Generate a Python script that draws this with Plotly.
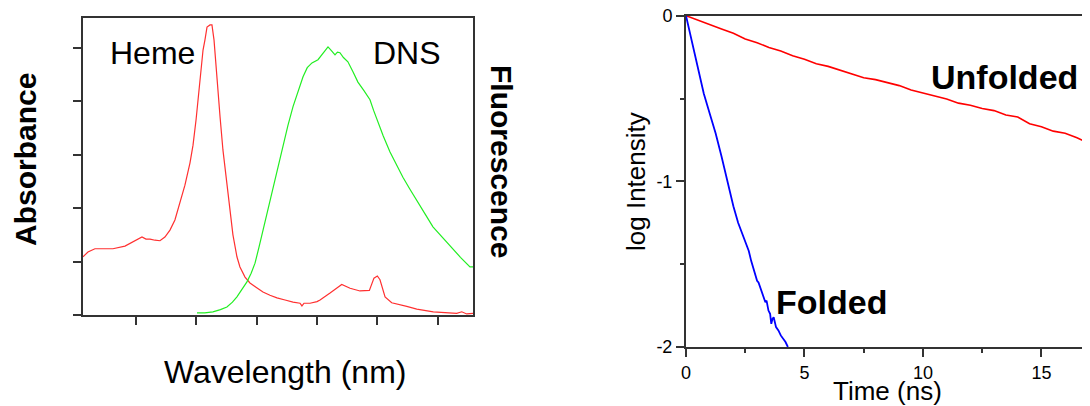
import plotly.graph_objects as go

# ---- Left panel: absorbance (Heme) and fluorescence (DNS) spectra ----
heme_nm = [306.1, 310.2, 316.0, 330.9, 340.9, 347.5, 351.7, 355.0, 358.3, 361.6, 365.8, 369.9,
           374.0, 378.2, 382.3, 386.5, 390.6, 394.8, 397.3, 399.8, 402.2, 403.9, 405.6, 407.2,
           408.9, 411.4, 413.0, 414.7, 416.3, 418.0, 419.7, 422.1, 425.5, 427.9, 430.4, 433.7,
           436.2, 440.4, 444.5, 449.5, 455.3, 461.1, 466.9, 473.6, 480.2, 486.0, 487.6, 489.3,
           494.3, 500.1, 502.6, 510.9, 520.6, 527.5, 535.7, 543.5, 547.3, 550.1, 552.3, 556.5,
           562.0, 574.5, 582.8, 596.5, 615.9, 620.1, 624.2, 629.4]
heme_abs = [1.09, 1.18, 1.24, 1.24, 1.29, 1.37, 1.42, 1.46, 1.42, 1.42, 1.40, 1.39,
            1.46, 1.59, 1.78, 2.10, 2.43, 2.85, 3.18, 3.65, 4.21, 4.63, 4.96, 5.15,
            5.39, 5.43, 5.43, 5.15, 4.74, 4.21, 3.71, 3.09, 2.47, 1.97, 1.50, 1.09,
            0.90, 0.71, 0.60, 0.52, 0.43, 0.37, 0.32, 0.28, 0.24, 0.22, 0.17, 0.22,
            0.22, 0.25, 0.28, 0.41, 0.57, 0.50, 0.45, 0.46, 0.69, 0.73, 0.66, 0.34,
            0.23, 0.16, 0.11, 0.06, 0.03, 0.06, 0.02, 0.03]

dns_nm = [400.6, 407.0, 413.8, 420.0, 425.4, 430.0, 433.7, 438.0, 442.0, 445.5, 448.7, 452.0,
          455.3, 459.5, 463.6, 468.0, 471.9, 476.0, 480.2, 484.5, 488.5, 492.0, 495.9, 500.9,
          505.0, 509.2, 512.0, 515.0, 517.0, 519.1, 522.0, 525.7, 530.0, 534.0, 539.0, 544.0,
          547.0, 550.6, 555.0, 560.6, 566.0, 571.3, 577.0, 583.0, 590.0, 596.2, 604.0, 611.9,
          619.0, 626.9, 629.4]
dns_fl = [0.04, 0.04, 0.06, 0.10, 0.15, 0.24, 0.34, 0.48, 0.62, 0.78, 0.97, 1.27,
          1.59, 2.00, 2.40, 2.80, 3.15, 3.55, 3.90, 4.20, 4.46, 4.63, 4.72, 4.78,
          4.90, 5.02, 4.95, 4.87, 4.92, 4.91, 4.82, 4.74, 4.55, 4.36, 4.20, 4.03,
          3.83, 3.60, 3.35, 3.05, 2.80, 2.58, 2.36, 2.15, 1.88, 1.65, 1.45, 1.25,
          1.08, 0.90, 0.90]

wl_ticks = [350, 400, 450, 500, 550, 600]
abs_ticks = [0, 1, 2, 3, 4, 5]

# ---- Right panel: fluorescence decays ----
unf_t = [0, 0.5, 1.0, 1.5, 2.0, 2.5, 3.0, 3.5, 4.0, 4.5, 5.0, 5.5, 6.0, 6.5, 7.0, 7.5, 8.0,
         8.5, 9.0, 9.5, 10.0, 10.5, 11.0, 11.5, 12.0, 12.5, 13.0, 13.5, 14.0, 14.5, 15.0,
         15.5, 16.0, 16.5, 17.0, 17.05]
unf_logI = [0, -0.028, -0.055, -0.080, -0.106, -0.140, -0.163, -0.192, -0.213, -0.242, -0.263,
            -0.290, -0.306, -0.328, -0.350, -0.375, -0.386, -0.405, -0.422, -0.448, -0.466,
            -0.488, -0.503, -0.528, -0.541, -0.560, -0.573, -0.599, -0.612, -0.652, -0.670,
            -0.697, -0.710, -0.737, -0.770, -0.775]

fold_t = [0, 0.25, 0.5, 0.75, 1.0, 1.25, 1.5, 1.75, 2.0, 2.2, 2.35, 2.5, 2.65, 2.75, 2.85,
          2.95, 3.0, 3.06, 3.15, 3.2, 3.27, 3.35, 3.4, 3.48, 3.55, 3.6, 3.65, 3.7, 3.8, 3.9,
          4.0, 4.1, 4.2, 4.3]
fold_logI = [0, -0.16, -0.32, -0.47, -0.59, -0.71, -0.85, -1.00, -1.15, -1.25, -1.31, -1.37,
             -1.42, -1.48, -1.53, -1.57, -1.60, -1.61, -1.65, -1.66, -1.69, -1.73, -1.72,
             -1.78, -1.80, -1.86, -1.83, -1.82, -1.88, -1.90, -1.93, -1.95, -1.97, -2.0]

time_ticks = [0, 5, 10, 15]
log_ticks = [0, -1, -2]
log_ticktext = ["0", "-1", "-2"]

FONT = "Liberation Sans, Arial, sans-serif"
AX = "#333333"

# page body has an 8px margin: figure is sized to the visible part of the window
OFF = 8
W, H = 1090 - OFF, 406 - OFF


def X(px):
    return (px - OFF) / W


def Y(py):
    return 1 - (py - OFF) / H


fig = go.Figure()
fig.add_trace(go.Scatter(x=heme_nm, y=heme_abs, mode="lines",
                         line=dict(color="#ff3030", width=1.2), xaxis="x", yaxis="y"))
fig.add_trace(go.Scatter(x=dns_nm, y=dns_fl, mode="lines",
                         line=dict(color="#22ee22", width=1.2), xaxis="x", yaxis="y"))
fig.add_trace(go.Scatter(x=unf_t, y=unf_logI, mode="lines",
                         line=dict(color="#ff0000", width=1.6), xaxis="x2", yaxis="y2"))
fig.add_trace(go.Scatter(x=fold_t, y=fold_logI, mode="lines",
                         line=dict(color="#0000ff", width=1.8), xaxis="x2", yaxis="y2"))

fig.update_layout(
    width=W, height=H,
    margin=dict(l=0, r=0, t=0, b=0, autoexpand=False),
    paper_bgcolor="white", plot_bgcolor="white",
    showlegend=False,
    font=dict(family=FONT, color="black"),
    xaxis=dict(domain=[X(83), X(473)], anchor="y", range=[306.1, 629.4],
               showline=True, linecolor=AX, linewidth=2, mirror=True,
               ticks="outside", ticklen=8, tickwidth=1.5, tickcolor=AX,
               tickvals=wl_ticks, showticklabels=False, showgrid=False, zeroline=False),
    yaxis=dict(domain=[Y(315), Y(18)], anchor="x", range=[0, 5.56],
               showline=True, linecolor=AX, linewidth=2, mirror=True,
               ticks="outside", ticklen=8, tickwidth=1.5, tickcolor=AX,
               tickvals=abs_ticks, showticklabels=False, showgrid=False, zeroline=False),
    xaxis2=dict(domain=[X(686), 1.0], anchor="y2", range=[0, 17.05],
                showline=True, linecolor=AX, linewidth=2, mirror=True,
                ticks="outside", ticklen=8, tickwidth=1.5, tickcolor=AX,
                tickvals=time_ticks, tickfont=dict(size=18, family=FONT),
                ticklabeloverflow="allow",
                minor=dict(ticks="outside", ticklen=4, tickcolor=AX, dtick=2.5, tick0=0),
                showgrid=False, zeroline=False),
    yaxis2=dict(domain=[Y(347), Y(15.7)], anchor="x2", range=[-2, 0],
                showline=True, linecolor=AX, linewidth=2,
                ticks="outside", ticklen=8, tickwidth=1.5, tickcolor=AX,
                tickvals=log_ticks, ticktext=log_ticktext, tickfont=dict(size=18, family=FONT),
                ticklabeloverflow="allow",
                minor=dict(ticks="outside", ticklen=4, tickcolor=AX, dtick=0.5, tick0=0),
                showgrid=False, zeroline=False),
)


def ann(text, px, py, size, angle=0):
    fig.add_annotation(text=text, x=X(px), y=Y(py), xref="paper", yref="paper",
                       xanchor="center", yanchor="middle", showarrow=False,
                       textangle=angle, font=dict(size=size, family=FONT, color="black"))


ann("Heme", 152, 53, 32)
ann("DNS", 407, 53, 32)
ann("Wavelength (nm)", 285, 372, 32)
ann("<b>Absorbance</b>", 25, 160, 30, -90)
ann("<b>Fluorescence</b>", 502, 161, 30, 90)
ann("log Intensity", 636, 182, 26, -90)
ann("Time (ns)", 887, 391, 26)
ann("<b>Unfolded</b>", 1004, 77, 34)
ann("<b>Folded</b>", 831, 302, 34)

fig.write_html("out.html")
